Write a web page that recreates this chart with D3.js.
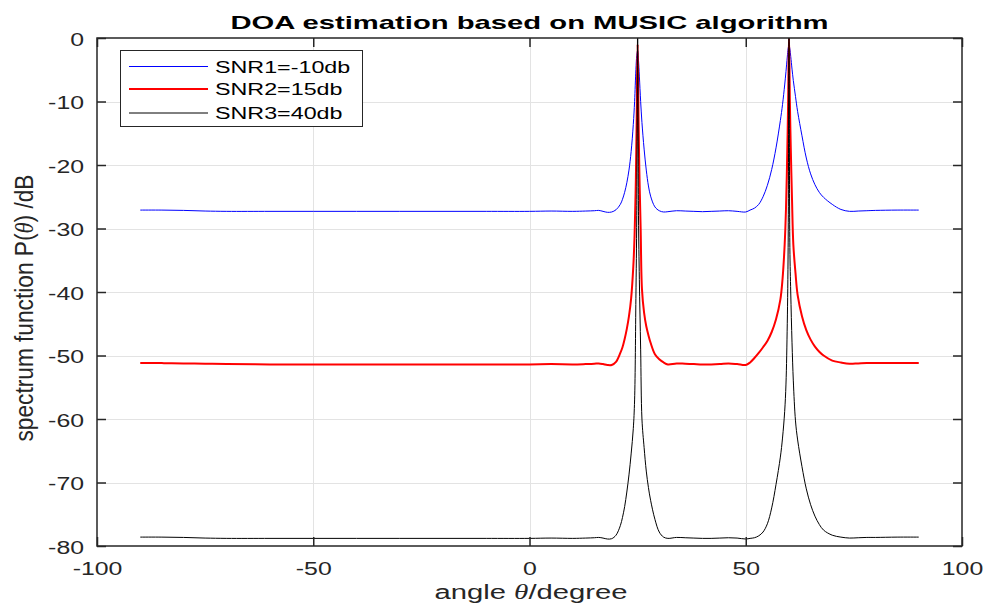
<!DOCTYPE html>
<html>
<head>
<meta charset="utf-8">
<script src="https://cdn.jsdelivr.net/npm/d3@7"></script>
<style>
body { margin: 0; background: #fff; }
svg { display: block; }
text { font-family: "Liberation Sans", Arial, Helvetica, sans-serif; fill: #262626; }
</style>
</head>
<body>
<svg id="chart" width="987" height="610"></svg>
<script>
// angle samples (degrees), denser near the two sources at 25 and 60
var theta = [-90, -85, -80, -75, -70, -60, -50, -40, -30, -20, -10, 0,
	5, 10, 13, 15, 16, 17, 18, 19,
	20, 21, 21.5, 22, 22.5, 23, 23.5, 24,
	24.3, 24.6, 24.8, 25, 25.2, 25.4, 25.7, 26,
	26.5, 27, 27.5, 28, 29, 30, 31, 32,
	34, 36, 38, 40, 42, 44, 46, 48,
	50, 51, 52, 53, 54, 55, 56, 57,
	58, 58.5, 59, 59.3, 59.6, 59.8, 60, 60.2,
	60.4, 60.7, 61, 61.5, 62, 63, 64, 65,
	66, 67, 68, 70, 72, 74, 76, 78,
	80, 85, 90];

var snr1 = [-27.1, -27.1, -27.15, -27.25, -27.3, -27.3, -27.3, -27.3, -27.3, -27.3, -27.3, -27.3,
	-27.25, -27.3, -27.25, -27.2, -27.15, -27.3, -27.45, -27.4,
	-27.05, -26.2, -25.4, -24.3, -22.8, -20.8, -17.9, -13.6,
	-10.0, -5.0, -2.8, -2.0, -3.5, -6.0, -10.0, -13.3,
	-17.5, -20.8, -23.3, -24.9, -26.6, -27.2, -27.4, -27.35,
	-27.2, -27.25, -27.3, -27.35, -27.3, -27.25, -27.2, -27.3,
	-27.4, -27.1, -26.8, -26.2, -25.0, -23.2, -20.7, -17.3,
	-13.0, -10.5, -7.4, -5.3, -3.0, -1.7, -1.1, -1.7,
	-2.9, -4.9, -6.7, -9.2, -11.6, -15.4, -18.9, -21.4,
	-23.1, -24.3, -25.1, -26.2, -27.0, -27.3, -27.25, -27.2,
	-27.15, -27.1, -27.1];

var snr2 = [-51.2, -51.2, -51.25, -51.3, -51.35, -51.4, -51.4, -51.4, -51.4, -51.4, -51.4, -51.4,
	-51.35, -51.4, -51.35, -51.3, -51.25, -51.35, -51.5, -51.5,
	-51.0, -49.6, -48.7, -47.4, -45.8, -43.8, -41.0, -36.0,
	-31.0, -22.0, -12.0, -1.0, -12.0, -21.0, -30.0, -39.5,
	-43.3, -45.4, -46.8, -48.0, -49.8, -50.6, -51.1, -51.4,
	-51.25, -51.3, -51.35, -51.4, -51.4, -51.35, -51.25, -51.35,
	-51.5, -51.1, -50.4, -49.6, -48.7, -47.7, -46.3, -44.3,
	-41.2, -38.0, -32.5, -27.0, -18.0, -10.0, 0.5, -10.0,
	-17.0, -25.5, -32.5, -37.0, -40.5, -43.8, -46.0, -47.5,
	-48.6, -49.4, -50.0, -50.8, -51.1, -51.3, -51.25, -51.2,
	-51.2, -51.2, -51.2];

var snr3 = [-78.6, -78.6, -78.65, -78.75, -78.8, -78.8, -78.8, -78.8, -78.8, -78.8, -78.8, -78.8,
	-78.75, -78.8, -78.75, -78.7, -78.65, -78.75, -78.9, -78.85,
	-78.3, -76.8, -75.5, -73.8, -71.5, -68.8, -65.5, -61.5,
	-57.0, -41.0, -28.0, 2.0, -28.0, -38.0, -49.0, -60.0,
	-64.5, -68.2, -70.8, -72.8, -75.8, -77.8, -78.6, -78.8,
	-78.65, -78.7, -78.75, -78.8, -78.8, -78.75, -78.7, -78.75,
	-78.9, -78.8, -78.7, -78.4, -77.8, -76.5, -74.0, -70.3,
	-66.0, -63.0, -58.8, -54.5, -45.0, -33.0, 2.0, -33.0,
	-40.0, -48.0, -54.0, -60.3, -63.3, -67.5, -71.0, -73.5,
	-75.3, -76.6, -77.5, -78.3, -78.6, -78.75, -78.7, -78.65,
	-78.65, -78.6, -78.6];

var seriesNames = ["SNR1=-10db", "SNR2=15db", "SNR3=40db"];
var xTicks = [-100, -50, 0, 50, 100];
var yTicks = [-80, -70, -60, -50, -40, -30, -20, -10, 0];

var svg = d3.select("#chart"),
	width = +svg.attr("width"),
	height = +svg.attr("height"),
	margin = {top: 38, left: 97, right: 25, bottom: 64};

var axisColor = "#262626";
var tickLen = 9;

// the reference text is drawn wide, so every label gets stretched horizontally
function stretch(sel, k) {
	sel.each(function() {
		var w = this.getComputedTextLength();
		d3.select(this).attr("textLength", w * k).attr("lengthAdjust", "spacingAndGlyphs");
	});
}

var x = d3.scaleLinear().domain([-100, 100]).range([margin.left, width - margin.right]);
var y = d3.scaleLinear().domain([-80, 0]).range([height - margin.bottom, margin.top]);

svg.append("rect").attr("width", width).attr("height", height).attr("fill", "#fff");

// grid
var g_grid = svg.append("g").attr("class", "grid");
g_grid.selectAll("line.gx").data(xTicks.slice(1, -1))
	.enter().append("line")
	.attr("x1", function(d) { return Math.round(x(d)) + 0.5; })
	.attr("x2", function(d) { return Math.round(x(d)) + 0.5; })
	.attr("y1", y(0)).attr("y2", y(-80))
	.attr("stroke", "#e3e3e3").attr("stroke-width", 1);
g_grid.selectAll("line.gy").data(yTicks.slice(1, -1))
	.enter().append("line")
	.attr("y1", function(d) { return Math.round(y(d)) + 0.5; })
	.attr("y2", function(d) { return Math.round(y(d)) + 0.5; })
	.attr("x1", x(-100)).attr("x2", x(100))
	.attr("stroke", "#e3e3e3").attr("stroke-width", 1);

// clip for the spectrum lines
svg.append("clipPath").attr("id", "clip_plot")
	.append("rect")
	.attr("x", x(-100)).attr("y", y(0))
	.attr("width", x(100) - x(-100)).attr("height", y(-80) - y(0));

var line = d3.line()
	.x(function(d) { return x(d[0]); })
	.y(function(d) { return y(d[1]); })
	.curve(d3.curveCatmullRom.alpha(0.5));

var series = [
	{values: snr1, color: "#0000ff", w: 1},
	{values: snr2, color: "#ff0000", w: 2},
	{values: snr3, color: "#000000", w: 1}
];

var g_line = svg.append("g").attr("clip-path", "url(#clip_plot)");
for (var i = 0; i < series.length; ++i) {
	g_line.append("path")
		.attr("d", line(d3.zip(theta, series[i].values)))
		.attr("fill", "none")
		.attr("stroke", series[i].color)
		.attr("stroke-width", series[i].w)
		.attr("stroke-linejoin", "round");
}

// axes, ticks pointing inward on all four sides
var fmt = function(d) { return String(d); };
var axisB = d3.axisBottom(x).tickValues(xTicks).tickSizeInner(-tickLen).tickSizeOuter(0).tickPadding(17).tickFormat(fmt);
var axisT = d3.axisTop(x).tickValues(xTicks).tickSizeInner(-tickLen).tickSizeOuter(0).tickFormat("");
var axisL = d3.axisLeft(y).tickValues(yTicks).tickSizeInner(-tickLen).tickSizeOuter(0).tickPadding(13).tickFormat(fmt);
var axisR = d3.axisRight(y).tickValues(yTicks).tickSizeInner(-tickLen).tickSizeOuter(0).tickFormat("");

var gB = svg.append("g").attr("transform", "translate(0," + y(-80) + ")").call(axisB);
var gT = svg.append("g").attr("transform", "translate(0," + y(0) + ")").call(axisT);
var gL = svg.append("g").attr("transform", "translate(" + x(-100) + ",0)").call(axisL);
var gR = svg.append("g").attr("transform", "translate(" + x(100) + ",0)").call(axisR);

[gB, gT, gL, gR].forEach(function(g) {
	g.select(".domain").remove();
	g.selectAll(".tick line").attr("stroke", axisColor).attr("stroke-width", 1.5);
	g.selectAll(".tick text").attr("fill", axisColor).style("font-size", "17.5px")
		.style("font-family", "'Liberation Sans', Arial, sans-serif");
});
gL.selectAll(".tick text").attr("dy", "0.4em");
stretch(gB.selectAll(".tick text"), 1.42);
stretch(gL.selectAll(".tick text"), 1.42);

// box
svg.append("rect")
	.attr("x", x(-100)).attr("y", y(0))
	.attr("width", x(100) - x(-100)).attr("height", y(-80) - y(0))
	.attr("fill", "none").attr("stroke", axisColor).attr("stroke-width", 1.5);

// title
svg.append("text")
	.attr("x", (x(-100) + x(100)) / 2).attr("y", 28.5)
	.attr("text-anchor", "middle")
	.style("font-size", "18.5px").style("font-weight", "bold").style("fill", "#000")
	.attr("textLength", 598).attr("lengthAdjust", "spacingAndGlyphs")
	.text("DOA estimation based on MUSIC algorithm");

// x label
var xl = svg.append("text")
	.attr("x", 531).attr("y", 599)
	.attr("text-anchor", "middle")
	.style("font-size", "20px")
	.attr("textLength", 193).attr("lengthAdjust", "spacingAndGlyphs");
xl.append("tspan").text("angle ");
xl.append("tspan").style("font-family", "'Liberation Serif', serif").style("font-style", "italic").text("θ");
xl.append("tspan").text("/degree");

// y label
var yl = svg.append("text")
	.attr("transform", "translate(33.3,308) scale(1.3,1) rotate(-90)")
	.attr("text-anchor", "middle")
	.style("font-size", "20px")
	.attr("textLength", 267).attr("lengthAdjust", "spacingAndGlyphs");
yl.append("tspan").text("spectrum function P(");
yl.append("tspan").style("font-family", "'Liberation Serif', serif").style("font-style", "italic").text("θ");
yl.append("tspan").text(") /dB");

// legend
var legend = svg.append("g").attr("class", "legend");
legend.append("rect")
	.attr("x", 120.5).attr("y", 50.5).attr("width", 242).attr("height", 76)
	.attr("fill", "#fff").attr("stroke", axisColor).attr("stroke-width", 1);
var rowY = [66.5, 89, 113];
var items = legend.selectAll("g.item").data(seriesNames)
	.enter().append("g").attr("class", "item")
	.attr("transform", function(d, i) { return "translate(0," + rowY[i] + ")"; });
items.append("line")
	.attr("x1", 129).attr("x2", 208).attr("y1", 0).attr("y2", 0)
	.attr("stroke", function(d, i) { return series[i].color; })
	.attr("stroke-width", function(d, i) { return series[i].w; });
items.append("text")
	.attr("x", 215).attr("y", 6)
	.style("font-size", "16.3px").style("fill", "#000")
	.text(function(d) { return d; });
stretch(items.selectAll("text"), 1.43);
</script>
</body>
</html>
